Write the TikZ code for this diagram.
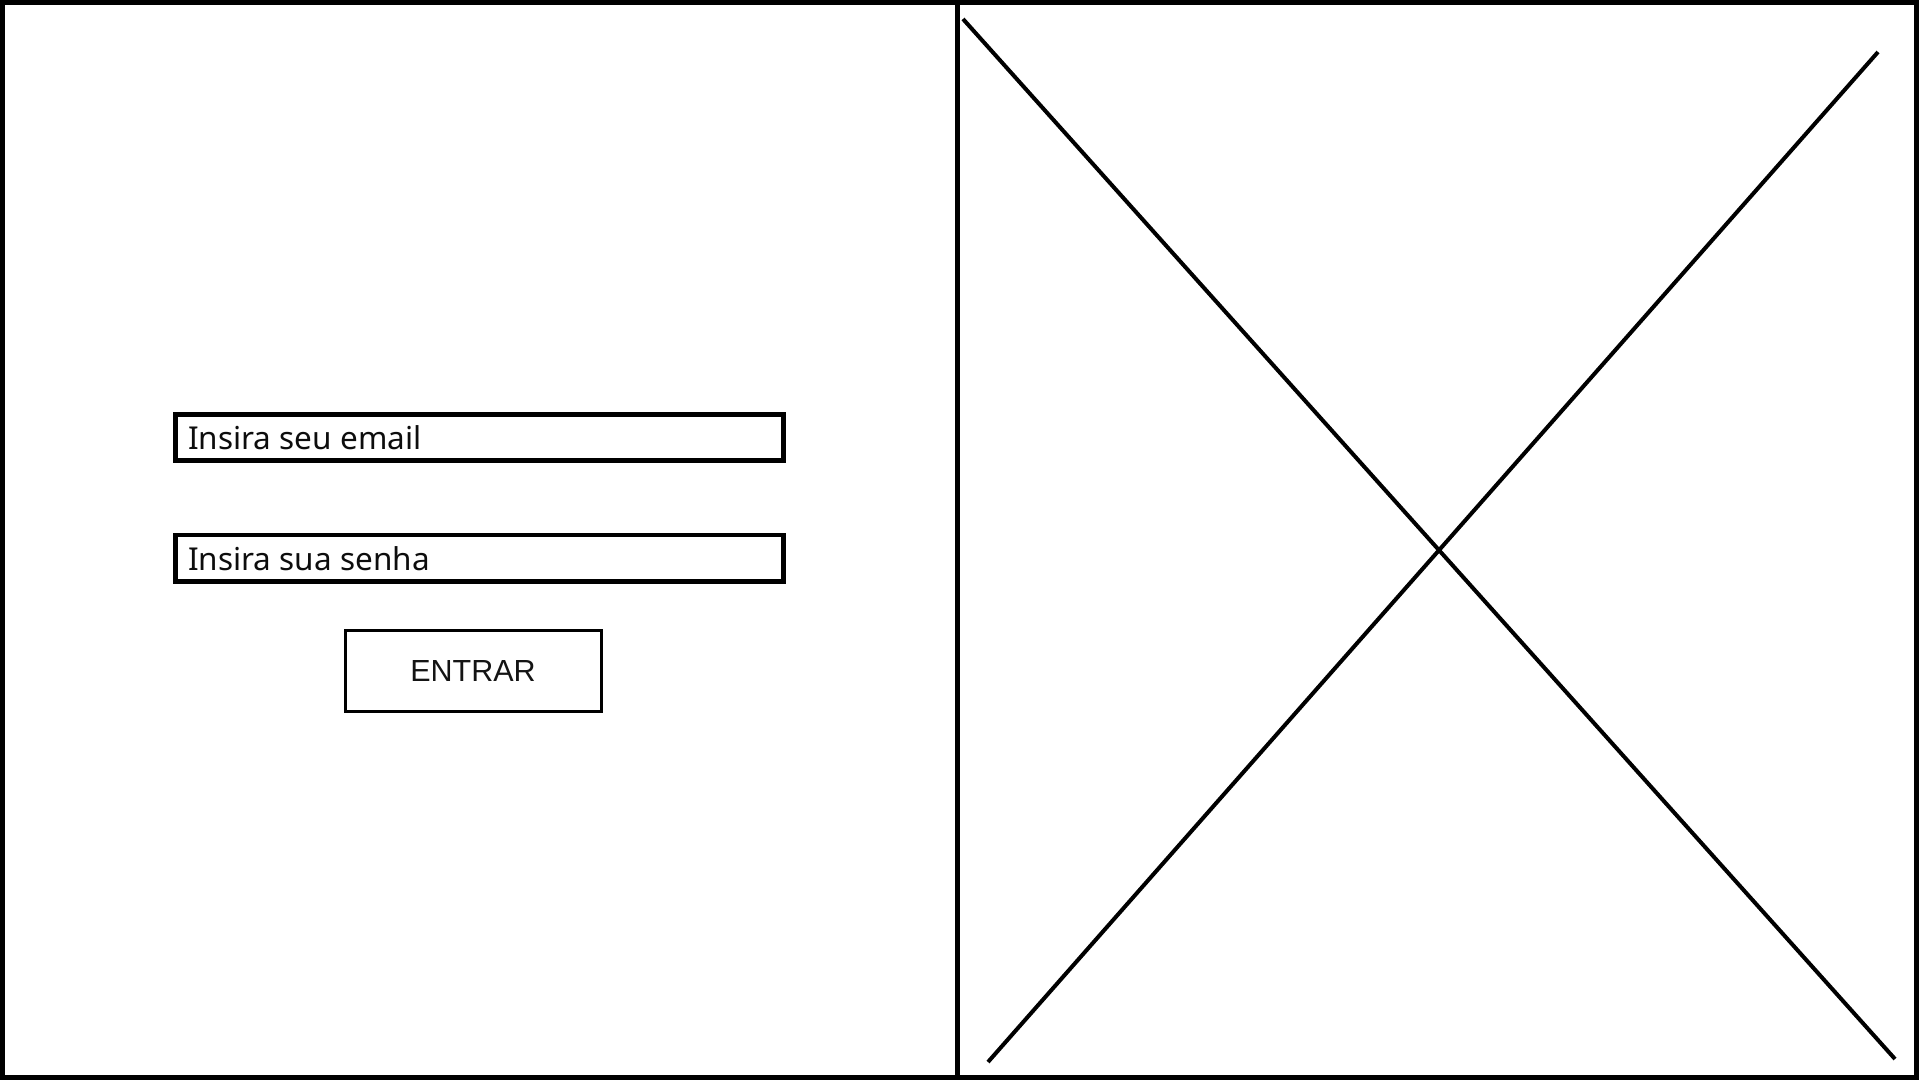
\documentclass[tikz,border=0pt]{standalone}
\usepackage{fontspec}
\setmainfont{Noto Sans}
\newfontfamily\btnfont{Liberation Sans}
\begin{document}
\begin{tikzpicture}[x=1pt,y=-1pt,
  frame/.style={draw=black,line width=5pt},
  inputbox/.style={draw=black,line width=4.5pt,rectangle,minimum width=608pt,inner sep=0pt},
  btnbox/.style={draw=black,line width=3pt,rectangle,minimum width=256pt,minimum height=81.5pt,inner sep=0pt,font=\btnfont\fontsize{30.5}{35}\selectfont,text=black!92},
  fieldtext/.style={anchor=base west,inner sep=0pt,font=\fontsize{31.5}{38}\selectfont,text=black!95},
  cross/.style={draw=black,line width=4pt}]
\useasboundingbox (0,0) rectangle (1920,1080);
\fill[white] (0,0) rectangle (1920,1080);
\draw[frame] (2.5,2.5) rectangle (1916.5,1077.5);
\coordinate (divtop) at (957.5,0);
\coordinate (divbot) at (957.5,1080);
\draw[frame] (divtop) -- (divbot);
\node[inputbox,minimum height=46pt] (email) at (479.5,437.5) {};
\node[fieldtext] (emailtxt) at (188,449) {Insira seu email};
\node[inputbox,minimum height=46.5pt] (senha) at (479.5,558.25) {};
\node[fieldtext] (senhatxt) at (188,570) {Insira sua senha};
\node[btnbox] (entrar) at (473,670.75) {ENTRAR};
\coordinate (d1a) at (963,19);
\coordinate (d1b) at (1895,1059);
\coordinate (d2a) at (988,1062);
\coordinate (d2b) at (1878,52);
\draw[cross] (d1a) -- (d1b);
\draw[cross] (d2a) -- (d2b);
\end{tikzpicture}
\end{document}
